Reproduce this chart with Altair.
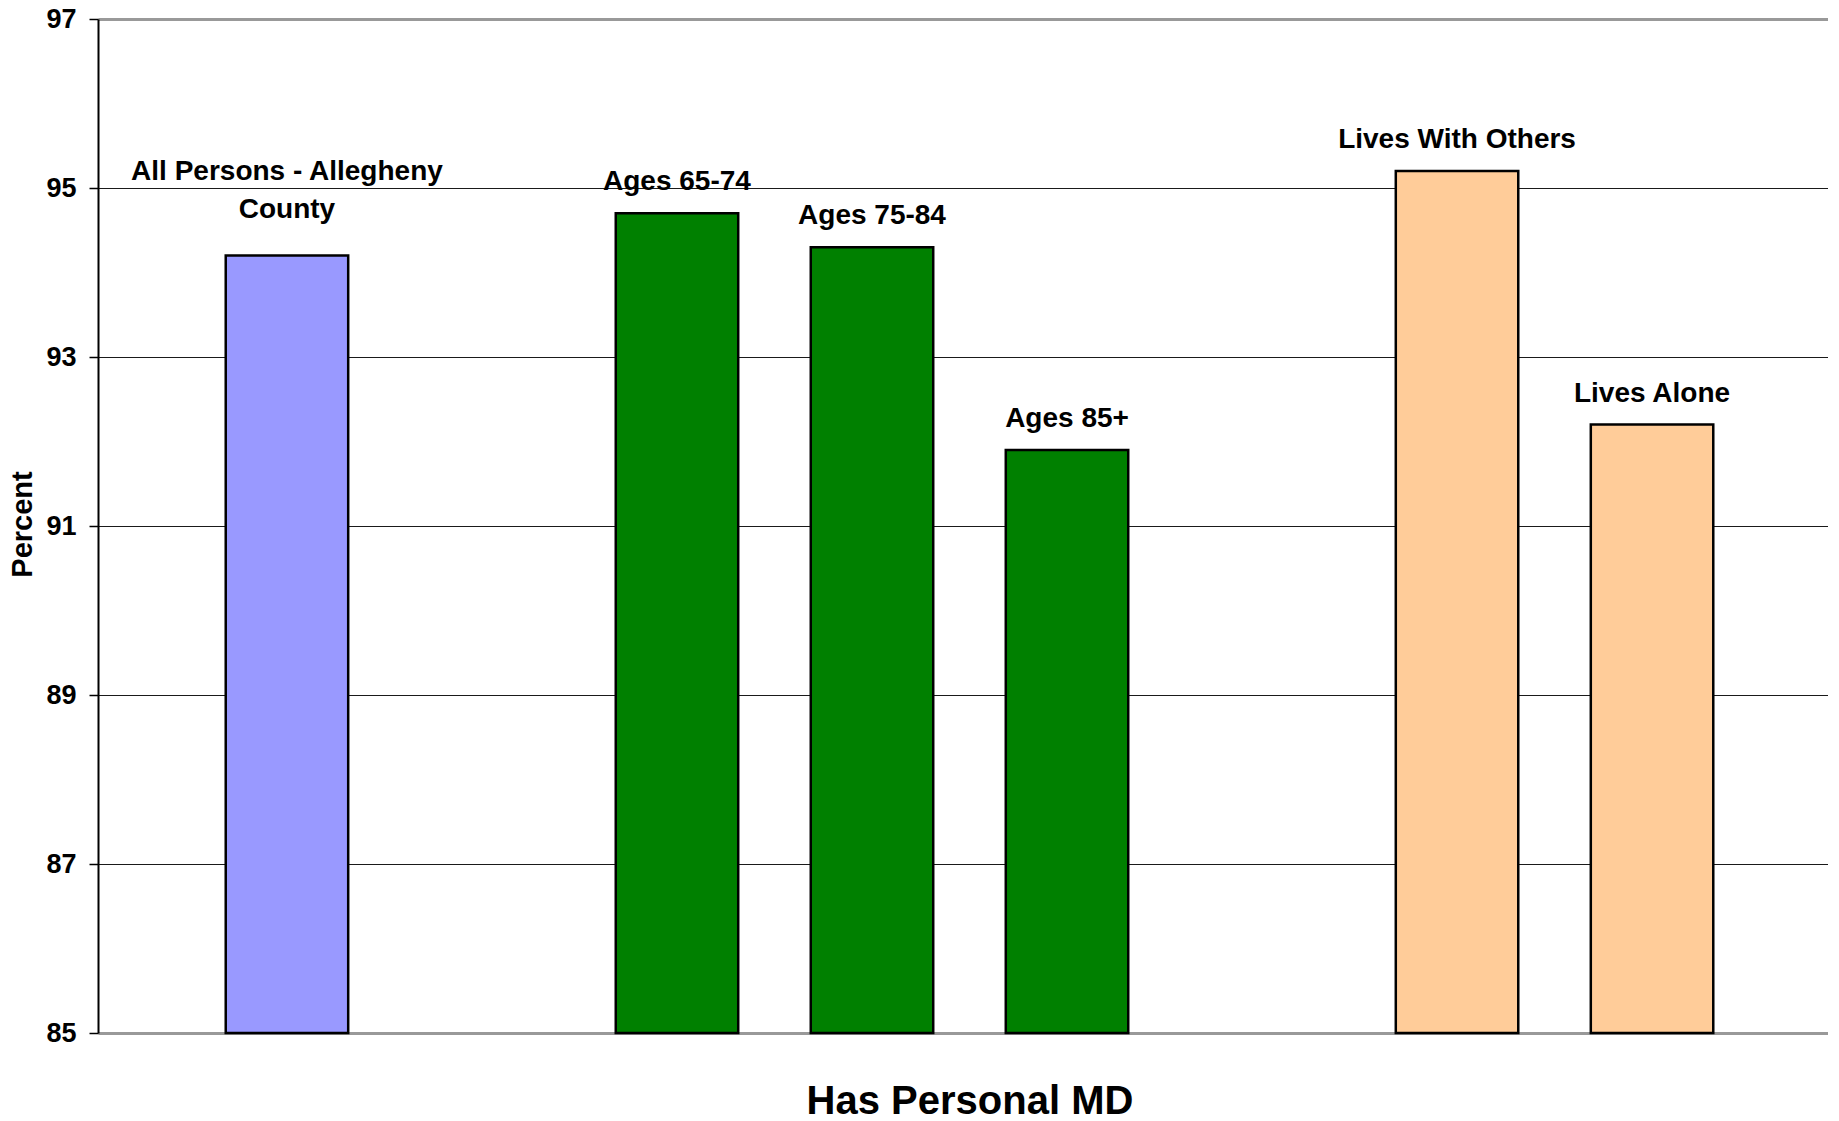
import altair as alt
import pandas as pd

categories = ["All Persons - Allegheny County", "Ages 65-74", "Ages 75-84",
              "Ages 85+", "Lives With Others", "Lives Alone"]
labels = ["All Persons - Allegheny\nCounty", "Ages 65-74", "Ages 75-84",
          "Ages 85+", "Lives With Others", "Lives Alone"]
values = [94.2, 94.7, 94.3, 91.9, 95.2, 92.2]
groups = ["All", "Age", "Age", "Age", "Living", "Living"]
group_names = ["All", "Age", "Living"]
group_colors = ["#9999FF", "#008000", "#FFCC99"]
# empty slots separate the three groups
slot_order = [categories[0], " ", categories[1], categories[2], categories[3],
              "  ", categories[4], categories[5]]
y_ticks = [85, 87, 89, 91, 93, 95, 97]

df = pd.DataFrame({"category": categories, "label": labels,
                   "value": values, "group": groups})

FONT = "Liberation Sans"

x_enc = alt.X(
    "category:N",
    scale=alt.Scale(domain=slot_order, paddingInner=0.372, paddingOuter=0.655),
    axis=alt.Axis(title="Has Personal MD", labels=False, ticks=False,
                  domain=False, grid=False, titleFontSize=40,
                  titleFontWeight="bold", titleFont=FONT, titleColor="black",
                  titleBaseline="alphabetic", titleY=80),
)
y_enc = alt.Y(
    "value:Q",
    scale=alt.Scale(domain=[85, 97], nice=False, zero=False),
    axis=alt.Axis(
        title="Percent", values=y_ticks, format="d",
        labelFontSize=27, labelFontWeight="bold", labelFont=FONT,
        labelColor="black", labelPadding=13,
        tickSize=9, tickColor="black", tickWidth=1.5,
        domainColor="black", domainWidth=2,
        gridColor={"condition": {"test": "datum.value === 97 || datum.value === 85",
                                 "value": "#999999"}, "value": "#1a1a1a"},
        gridWidth={"condition": {"test": "datum.value === 97 || datum.value === 85",
                                 "value": 3}, "value": 1},
        titleFontSize=29, titleFontWeight="bold", titleFont=FONT,
        titleColor="black", titleAngle=270, titleAlign="center",
        titleBaseline="middle", titleX=-76, titleY=505,
    ),
)

bars = alt.Chart(df).mark_bar(stroke="black", strokeWidth=2.5).encode(
    x=x_enc,
    y=y_enc,
    y2=alt.datum(85),
    color=alt.Color("group:N",
                    scale=alt.Scale(domain=group_names, range=group_colors),
                    legend=None),
)

text_style = dict(baseline="alphabetic", fontSize=28, fontWeight="bold",
                  font=FONT, lineBreak="\n", lineHeight=38, color="black")

text_single = alt.Chart(df).transform_filter(
    "indexof(datum.label, '\\n') < 0"
).mark_text(dy=-23, **text_style).encode(x=x_enc, y=y_enc, text="label:N")

text_multi = alt.Chart(df).transform_filter(
    "indexof(datum.label, '\\n') >= 0"
).mark_text(dy=-76, **text_style).encode(x=x_enc, y=y_enc, text="label:N")

chart = alt.layer(bars, text_single, text_multi).properties(
    width=1743,
    height=1014,
    padding={"left": 90, "top": 11, "right": -13, "bottom": 88},
    autosize=alt.AutoSizeParams(type="none"),
).configure_view(stroke=None)

chart.save("out.html", embed_options={"renderer": "svg", "actions": False})
